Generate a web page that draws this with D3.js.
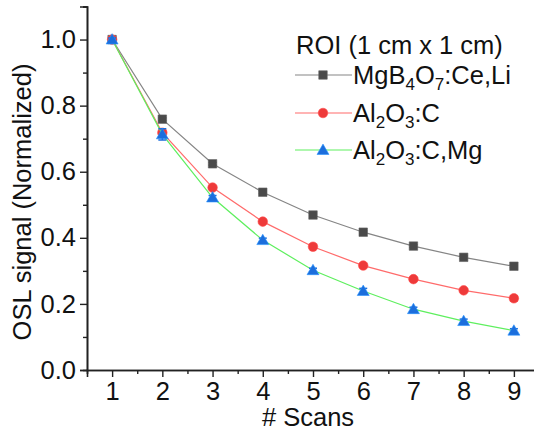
<!DOCTYPE html>
<html>
<head>
<meta charset="utf-8">
<script src="https://cdn.jsdelivr.net/npm/d3@7"></script>
<style>
  html, body { margin: 0; padding: 0; background: #fff; }
  svg { display: block; font-family: "Liberation Sans", Arial, sans-serif; }
</style>
</head>
<body>
<svg id="chart" width="534" height="435"></svg>
<script>
// Scan number along the x axis
const scans = [1, 2, 3, 4, 5, 6, 7, 8, 9];

// Normalized OSL signal per dosimeter material
const mgb4o7 = [1.0, 0.759, 0.624, 0.538, 0.469, 0.417, 0.375, 0.341, 0.314];
const al2o3c = [1.0, 0.718, 0.552, 0.449, 0.373, 0.316, 0.275, 0.241, 0.217];
const al2o3cmg = [1.0, 0.713, 0.522, 0.393, 0.302, 0.239, 0.184, 0.148, 0.119];

// Error bar half-widths
const mgb4o7Err = [0.004, 0.004, 0.004, 0.004, 0.004, 0.004, 0.004, 0.004, 0.004];
const al2o3cErr = [0.005, 0.006, 0.005, 0.005, 0.005, 0.005, 0.005, 0.005, 0.008];
const al2o3cmgErr = [0.005, 0.017, 0.006, 0.006, 0.006, 0.008, 0.006, 0.006, 0.006];

const yTicks = [0.0, 0.2, 0.4, 0.6, 0.8, 1.0];
const xTicks = [1, 2, 3, 4, 5, 6, 7, 8, 9];

const legendTitle = "ROI (1 cm x 1 cm)";

const svg = d3.select("#chart");
const FONT = "25.5px";

const x = d3.scaleLinear().domain([0.5, 9.5]).range([87, 539]);
const y = d3.scaleLinear().domain([0, 1.1]).range([370, 6.5]);

const series = [
  { name: [["MgB", ""], ["4", "sub"], ["O", ""], ["7", "sub"], [":Ce,Li", ""]],
    values: mgb4o7, err: mgb4o7Err, line: "#858585", fill: "#4a4a4a", shape: "square" },
  { name: [["Al", ""], ["2", "sub"], ["O", ""], ["3", "sub"], [":C", ""]],
    values: al2o3c, err: al2o3cErr, line: "#ff6b6b", fill: "#ee3a3a", shape: "circle" },
  { name: [["Al", ""], ["2", "sub"], ["O", ""], ["3", "sub"], [":C,Mg", ""]],
    values: al2o3cmg, err: al2o3cmgErr, line: "#5eef5e", fill: "#1c6edc", shape: "triangle" }
];

const symbolFor = {
  square: d3.symbol().type(d3.symbolSquare).size(72),
  circle: d3.symbol().type(d3.symbolCircle).size(72),
  triangle: d3.symbol().type(d3.symbolTriangle).size(62)
};

// Axes
const axisColor = "#222";
const xAxis = d3.axisBottom(x).tickValues(xTicks).tickFormat(d3.format("d")).tickSize(7).tickPadding(5);
const xMinor = d3.axisBottom(x).tickValues(d3.range(1.5, 9.5, 1)).tickFormat("").tickSize(4);
const yAxis = d3.axisLeft(y).tickValues(yTicks).tickFormat(d3.format(".1f")).tickSize(7).tickPadding(4);
const yMinor = d3.axisLeft(y).tickValues([0.1, 0.3, 0.5, 0.7, 0.9, 1.1]).tickFormat("").tickSize(4);

function styleAxis(g) {
  g.select(".domain").attr("stroke", axisColor).attr("stroke-width", 1.6);
  g.selectAll(".tick line").attr("stroke", axisColor).attr("stroke-width", 1.4);
  g.selectAll(".tick text").attr("fill", "#111").style("font-size", FONT)
    .style("font-family", "'Liberation Sans', Arial, sans-serif");
}

svg.append("g").attr("transform", `translate(0,${y(0)})`).call(xMinor).call(styleAxis);
svg.append("g").attr("transform", `translate(0,${y(0)})`).call(xAxis).call(styleAxis);
svg.append("g").attr("transform", `translate(${x(0.5)},0)`).call(yMinor).call(styleAxis);
svg.append("g").attr("transform", `translate(${x(0.5)},0)`).call(yAxis).call(styleAxis);

// Axis titles
svg.append("text")
  .attr("x", 308).attr("y", 426)
  .attr("text-anchor", "middle")
  .style("font-size", FONT).attr("fill", "#111")
  .text("# Scans");

svg.append("text")
  .attr("transform", "translate(31,202) rotate(-90)")
  .attr("text-anchor", "middle")
  .style("font-size", FONT).attr("fill", "#111")
  .text("OSL signal (Normalized)");

// Series: connecting line, error bars, then symbols
const line = d3.line().x((d, i) => x(scans[i])).y(d => y(d));

series.forEach(s => {
  const g = svg.append("g");
  g.append("path")
    .attr("d", line(s.values))
    .attr("fill", "none")
    .attr("stroke", s.line)
    .attr("stroke-width", 1.2);

  const eb = g.selectAll(".eb").data(s.values).enter().append("g");
  eb.append("line")
    .attr("x1", (d, i) => x(scans[i])).attr("x2", (d, i) => x(scans[i]))
    .attr("y1", (d, i) => y(d - s.err[i])).attr("y2", (d, i) => y(d + s.err[i]))
    .attr("stroke", s.fill).attr("stroke-width", 1.5);
  ["-", "+"].forEach(sign => {
    eb.append("line")
      .attr("x1", (d, i) => x(scans[i]) - 4).attr("x2", (d, i) => x(scans[i]) + 4)
      .attr("y1", (d, i) => y(sign === "+" ? d + s.err[i] : d - s.err[i]))
      .attr("y2", (d, i) => y(sign === "+" ? d + s.err[i] : d - s.err[i]))
      .attr("stroke", s.fill).attr("stroke-width", 1.5);
  });

  g.selectAll(".pt").data(s.values).enter().append("path")
    .attr("d", symbolFor[s.shape])
    .attr("transform", (d, i) => `translate(${x(scans[i])},${y(d) + (s.shape === "triangle" ? 1 : 0)})`)
    .attr("fill", s.fill)
    .attr("stroke", d3.color(s.fill).brighter(0.8))
    .attr("stroke-width", 0.6);
});

// Legend
const legend = svg.append("g");
legend.append("text")
  .attr("x", 296).attr("y", 54)
  .style("font-size", FONT).attr("fill", "#111")
  .text(legendTitle);

const rowY = [75, 113, 150];
series.forEach((s, k) => {
  const ry = rowY[k];
  legend.append("line")
    .attr("x1", 295).attr("x2", 352).attr("y1", ry).attr("y2", ry)
    .attr("stroke", s.line).attr("stroke-width", 1.2);
  legend.append("path")
    .attr("d", symbolFor[s.shape])
    .attr("transform", `translate(323,${ry + (s.shape === "triangle" ? 1 : 0)})`)
    .attr("fill", s.fill)
    .attr("stroke", d3.color(s.fill).brighter(0.8))
    .attr("stroke-width", 0.6);
  const t = legend.append("text")
    .attr("x", 353).attr("y", ry + 9)
    .style("font-size", FONT).attr("fill", "#111");
  s.name.forEach(([txt, kind]) => {
    const span = t.append("tspan").text(txt);
    if (kind === "sub") {
      span.style("font-size", "17px").attr("dy", 6);
    } else if (t.selectAll("tspan").size() > 1) {
      span.attr("dy", -6);
    }
  });
});
</script>
</body>
</html>
